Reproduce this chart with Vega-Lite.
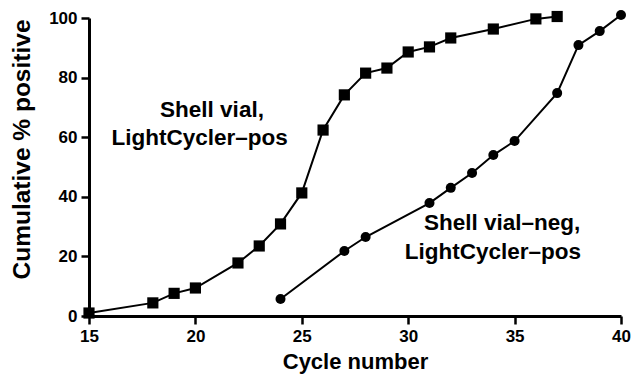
{
  "$schema": "https://vega.github.io/schema/vega-lite/v6.json",
  "width": 532,
  "height": 298,
  "autosize": "none",
  "padding": {"left": 89, "top": 18, "right": 11, "bottom": 60},
  "background": "white",
  "config": {
    "view": {"stroke": null},
    "font": "Liberation Sans",
    "axis": {
      "grid": false,
      "domainColor": "black",
      "domainWidth": 3,
      "tickColor": "black",
      "tickWidth": 2.5,
      "tickSize": 8,
      "labelFont": "Liberation Sans",
      "labelFontWeight": "bold",
      "labelFontSize": 17,
      "labelColor": "black",
      "labelPadding": 4,
      "labelFlush": false,
      "labelOverlap": false,
      "titleFont": "Liberation Sans",
      "titleFontWeight": "bold",
      "titleColor": "black"
    }
  },
  "datasets": {
    "pts": [
      {"series": "sv", "cycle": 15, "pct": 1},
      {"series": "sv", "cycle": 18, "pct": 4.4},
      {"series": "sv", "cycle": 19, "pct": 7.6},
      {"series": "sv", "cycle": 20, "pct": 9.4},
      {"series": "sv", "cycle": 22, "pct": 17.8},
      {"series": "sv", "cycle": 23, "pct": 23.5},
      {"series": "sv", "cycle": 24, "pct": 30.9},
      {"series": "sv", "cycle": 25, "pct": 41.3},
      {"series": "sv", "cycle": 26, "pct": 62.4},
      {"series": "sv", "cycle": 27, "pct": 74.2},
      {"series": "sv", "cycle": 28, "pct": 81.5},
      {"series": "sv", "cycle": 29, "pct": 83.2},
      {"series": "sv", "cycle": 30, "pct": 88.6},
      {"series": "sv", "cycle": 31, "pct": 90.3},
      {"series": "sv", "cycle": 32, "pct": 93.3},
      {"series": "sv", "cycle": 34, "pct": 96.3},
      {"series": "sv", "cycle": 36, "pct": 99.7},
      {"series": "sv", "cycle": 37, "pct": 100.5},
      {"series": "neg", "cycle": 24, "pct": 5.7},
      {"series": "neg", "cycle": 27, "pct": 21.8},
      {"series": "neg", "cycle": 28, "pct": 26.5},
      {"series": "neg", "cycle": 31, "pct": 37.9},
      {"series": "neg", "cycle": 32, "pct": 43},
      {"series": "neg", "cycle": 33, "pct": 48},
      {"series": "neg", "cycle": 34, "pct": 54},
      {"series": "neg", "cycle": 35, "pct": 58.7},
      {"series": "neg", "cycle": 37, "pct": 74.8},
      {"series": "neg", "cycle": 38, "pct": 90.9},
      {"series": "neg", "cycle": 39, "pct": 95.6},
      {"series": "neg", "cycle": 40, "pct": 101}
    ],
    "labels": [
      {"cycle": 20.78, "pct": 69.1, "text": "Shell vial,"},
      {"cycle": 20.2, "pct": 59.7, "text": "LightCycler–pos"},
      {"cycle": 34.41, "pct": 31.2, "text": "Shell vial–neg,"},
      {"cycle": 33.98, "pct": 21.5, "text": "LightCycler–pos"}
    ]
  },
  "layer": [
    {
      "data": {"name": "pts"},
      "mark": {"type": "line", "color": "black", "strokeWidth": 2},
      "encoding": {
        "x": {
          "field": "cycle", "type": "quantitative",
          "scale": {"domain": [15, 40], "nice": false, "zero": false},
          "axis": {"values": [15, 20, 25, 30, 35, 40], "title": "Cycle number", "titleFontSize": 22, "titlePadding": 7}
        },
        "y": {
          "field": "pct", "type": "quantitative",
          "scale": {"domain": [0, 100], "nice": false},
          "axis": {"values": [0, 20, 40, 60, 80, 100], "title": "Cumulative % positive", "titleFontSize": 24.5, "titleX": -60, "titleY": 131, "titleBaseline": "alphabetic", "titleAngle": -90, "titleAlign": "center"}
        },
        "detail": {"field": "series"}
      }
    },
    {
      "data": {"name": "pts"},
      "transform": [{"filter": "datum.series === 'sv'"}],
      "mark": {"type": "square", "color": "black", "filled": true, "opacity": 1, "size": 125},
      "encoding": {
        "x": {"field": "cycle", "type": "quantitative"},
        "y": {"field": "pct", "type": "quantitative"}
      }
    },
    {
      "data": {"name": "pts"},
      "transform": [{"filter": "datum.series === 'neg'"}],
      "mark": {"type": "circle", "color": "black", "opacity": 1, "size": 100},
      "encoding": {
        "x": {"field": "cycle", "type": "quantitative"},
        "y": {"field": "pct", "type": "quantitative"}
      }
    },
    {
      "data": {"name": "labels"},
      "mark": {"type": "text", "font": "Liberation Sans", "fontWeight": "bold", "fontSize": 22.5, "color": "black", "align": "center", "baseline": "middle"},
      "encoding": {
        "x": {"field": "cycle", "type": "quantitative"},
        "y": {"field": "pct", "type": "quantitative"},
        "text": {"field": "text"}
      }
    }
  ]
}
